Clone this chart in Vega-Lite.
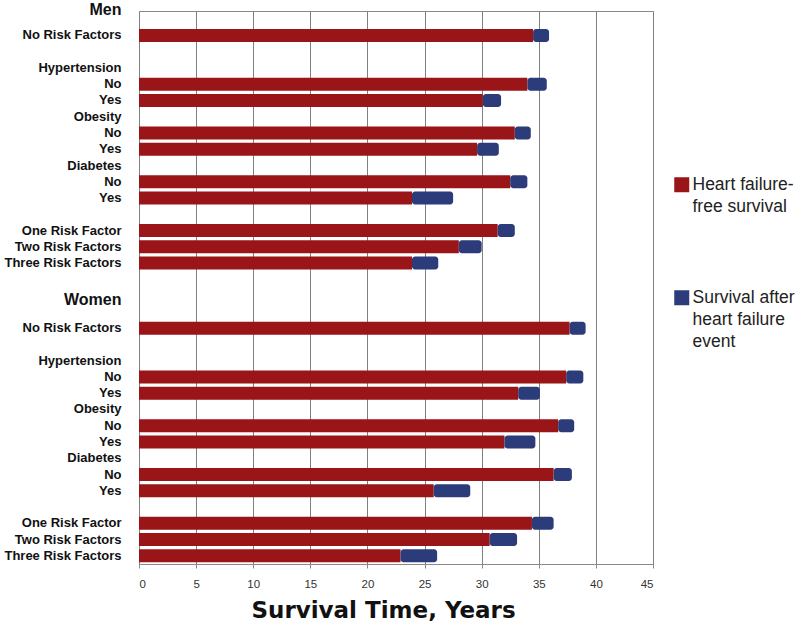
{
  "$schema": "https://vega.github.io/schema/vega-lite/v6.json",
  "autosize": "none",
  "width": 514,
  "height": 553,
  "padding": {"left": 139, "top": 11, "right": 147, "bottom": 65},
  "background": "white",
  "config": {
    "view": {"stroke": "#8a8a8a", "strokeWidth": 1},
    "font": "Liberation Sans",
    "style": {"guide-label": {"lineHeight": 22}}
  },
  "data": {
    "values": [
      {"row": "01|No Risk Factors", "sex": "Men", "hf_free": 34.5, "total": 35.9},
      {"row": "04|No", "sex": "Men", "hf_free": 34.0, "total": 35.7},
      {"row": "05|Yes", "sex": "Men", "hf_free": 30.1, "total": 31.7},
      {"row": "07|No", "sex": "Men", "hf_free": 32.9, "total": 34.3},
      {"row": "08|Yes", "sex": "Men", "hf_free": 29.6, "total": 31.5},
      {"row": "10|No", "sex": "Men", "hf_free": 32.5, "total": 34.0},
      {"row": "11|Yes", "sex": "Men", "hf_free": 23.9, "total": 27.5},
      {"row": "13|One Risk Factor", "sex": "Men", "hf_free": 31.4, "total": 32.9},
      {"row": "14|Two Risk Factors", "sex": "Men", "hf_free": 28.0, "total": 30.0},
      {"row": "15|Three Risk Factors", "sex": "Men", "hf_free": 23.9, "total": 26.2},
      {"row": "19|No Risk Factors", "sex": "Women", "hf_free": 37.7, "total": 39.1},
      {"row": "22|No", "sex": "Women", "hf_free": 37.4, "total": 38.9},
      {"row": "23|Yes", "sex": "Women", "hf_free": 33.2, "total": 35.1},
      {"row": "25|No", "sex": "Women", "hf_free": 36.7, "total": 38.1},
      {"row": "26|Yes", "sex": "Women", "hf_free": 32.0, "total": 34.7},
      {"row": "28|No", "sex": "Women", "hf_free": 36.3, "total": 37.9},
      {"row": "29|Yes", "sex": "Women", "hf_free": 25.8, "total": 29.0},
      {"row": "31|One Risk Factor", "sex": "Women", "hf_free": 34.4, "total": 36.3},
      {"row": "32|Two Risk Factors", "sex": "Women", "hf_free": 30.7, "total": 33.1},
      {"row": "33|Three Risk Factors", "sex": "Women", "hf_free": 22.9, "total": 26.1}
    ]
  },
  "encoding": {
    "y": {
      "field": "row",
      "type": "nominal",
      "scale": {
        "domain": ["00|Men","01|No Risk Factors","02|","03|Hypertension","04|No","05|Yes","06|Obesity","07|No","08|Yes","09|Diabetes","10|No","11|Yes","12|","13|One Risk Factor","14|Two Risk Factors","15|Three Risk Factors","16|","17|Women","18|","19|No Risk Factors","20|","21|Hypertension","22|No","23|Yes","24|Obesity","25|No","26|Yes","27|Diabetes","28|No","29|Yes","30|","31|One Risk Factor","32|Two Risk Factors","33|Three Risk Factors"],
        "paddingInner": 0.2,
        "paddingOuter": 0.1
      },
      "axis": {
        "title": null,
        "ticks": false,
        "domain": false,
        "labelExpr": "split(datum.value, '|')[1]",
        "labelFont": "Liberation Sans",
        "labelFontWeight": "bold",
        "labelColor": "#111111",
        "labelFontSize": {"condition": {"test": "datum.value == '00|Men' || datum.value == '17|Women'", "value": 16}, "value": 13},
        "labelOffset": {"condition": [{"test": "datum.value == '00|Men'", "value": -9}, {"test": "datum.value == '17|Women'", "value": 4}], "value": 0},
        "labelPadding": 18,
        "labelLimit": 200
      }
    }
  },
  "layer": [
    {
      "mark": {"type": "bar"},
      "encoding": {
        "x": {
          "field": "hf_free",
          "type": "quantitative",
          "scale": {"domain": [0, 45], "nice": false},
          "axis": {
            "values": [0,5,10,15,20,25,30,35,40,45],
            "title": "Survival Time, Years",
            "titleFont": "DejaVu Sans",
            "titleFontSize": 23,
            "titleFontWeight": "bold",
            "titleColor": "#111111",
            "titlePadding": 10,
            "titleX": 244,
            "titleAlign": "center",
            "labelFont": "Liberation Sans",
            "labelFontSize": 11.5,
            "labelColor": "#333333",
            "labelPadding": 10,
            "tickSize": 4,
            "tickColor": "#8a8a8a",
            "domainColor": "#8a8a8a",
            "grid": true,
            "gridColor": "#808080",
            "gridOpacity": 1,
            "gridWidth": 1
          }
        },
        "color": {
          "datum": "Heart failure-free survival",
          "type": "nominal",
          "scale": {
            "domain": ["Heart failure-free survival", "Survival after heart failure event"],
            "range": ["#9a1518", "#2c3b79"]
          },
          "legend": {
            "orient": "none",
            "legendX": 534,
            "legendY": 165,
            "title": null,
            "symbolType": "square",
            "symbolSize": 225,
            "symbolStrokeWidth": 0,
            "labelFont": "Liberation Sans",
            "labelFontSize": 17.5,
            "labelColor": "#222222",
            "labelBaseline": "middle",
            "labelOffset": 2,
            "rowPadding": 72,
            "labelLimit": 200,
            "labelExpr": "datum.label == 'Heart failure-free survival' ? ['Heart failure-', 'free survival'] : ['Survival after', 'heart failure', 'event']"
          }
        }
      }
    },
    {
      "mark": {"type": "bar", "cornerRadiusEnd": 3},
      "encoding": {
        "x": {"field": "hf_free", "type": "quantitative"},
        "x2": {"field": "total"},
        "color": {"datum": "Survival after heart failure event", "type": "nominal"}
      }
    }
  ]
}
